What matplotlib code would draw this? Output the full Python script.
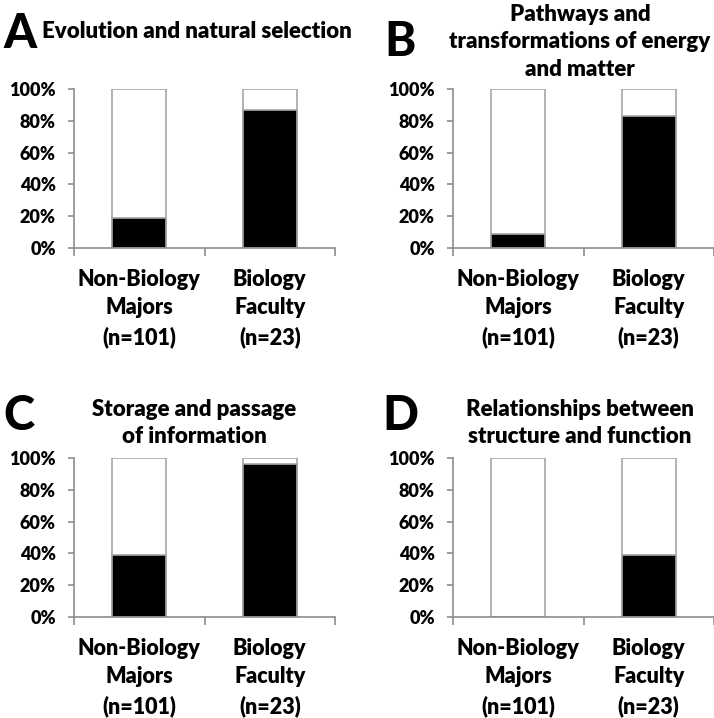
import matplotlib.pyplot as plt
import matplotlib.ticker as mticker

plt.rcParams['font.family'] = ['Lato', 'DejaVu Sans']
plt.rcParams['font.weight'] = 'heavy'

groups = ["Non-Biology\nMajors\n(n=101)", "Biology\nFaculty\n(n=23)"]
letters = ["A", "B", "C", "D"]
titles = ["Evolution and natural selection",
          "Pathways and\ntransformations of energy\nand matter",
          "Storage and passage\nof information",
          "Relationships between\nstructure and function"]
# percent of responses in each group (black part of bar)
pct_A = [19, 87]
pct_B = [9, 83]
pct_C = [39, 96]
pct_D = [0, 39]
values = [pct_A, pct_B, pct_C, pct_D]

W, H = 714, 718
fig = plt.figure(figsize=(W / 100, H / 100), dpi=100)

# axes boxes in pixels: left, top, right, bottom
boxes = [(74, 89, 335, 248), (453, 89, 714, 248),
         (74, 458, 335, 617), (453, 458, 714, 617)]
title_pos = [(197, 32), (580, 42), (194, 423), (580, 423)]
letter_pos = [(3, 34), (384, 42), (3, 416), (382, 416)]

grey = '#8c8c8c'
for i in range(4):
    l, t, r, b = boxes[i]
    ax = fig.add_axes([l / W, 1 - b / H, (r - l) / W, (b - t) / H])
    x = [0.5, 1.5]
    ax.bar(x, [100, 100], width=0.41, color='white', edgecolor='#a6a6a6', linewidth=1.2)
    ax.bar(x, values[i], width=0.41, color='black', edgecolor='#a6a6a6', linewidth=1.2)
    ax.set_xlim(0, 2)
    ax.set_ylim(0, 100)
    ax.yaxis.set_major_locator(mticker.MultipleLocator(20))
    ax.yaxis.set_major_formatter(mticker.FuncFormatter(lambda v, p: '%d%%' % v))
    ax.set_xticks(x)
    ax.set_xticklabels(groups, fontsize=15.5, linespacing=1.43)
    ax.set_xticks([0, 1, 2], minor=True)
    ax.tick_params(axis='x', which='major', length=0, pad=15)
    ax.tick_params(axis='x', which='minor', length=6, color=grey, width=1.2)
    ax.tick_params(axis='y', length=4, color=grey, width=1.2, labelsize=13, pad=9)
    for s in ['top', 'right']:
        ax.spines[s].set_visible(False)
    for s in ['left', 'bottom']:
        ax.spines[s].set_color(grey)
        ax.spines[s].set_linewidth(1.2)
    ax.spines['bottom'].set_zorder(5)

    tx, ty = title_pos[i]
    fig.text(tx / W, 1 - ty / H, titles[i], ha='center', va='center',
             fontsize=16, linespacing=1.4)
    lx, ly = letter_pos[i]
    fig.text(lx / W, 1 - ly / H, letters[i], ha='left', va='center',
             fontsize=34, fontweight='black')

fig.savefig('out.png', dpi=100)
